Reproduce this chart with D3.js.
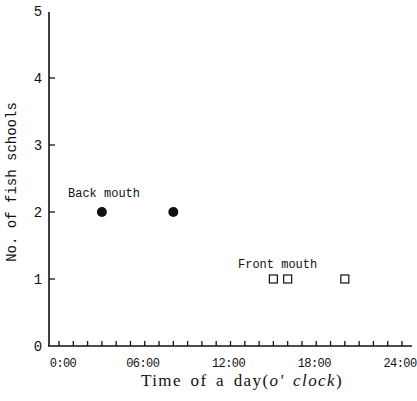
<!DOCTYPE html>
<html>
<head>
<meta charset="utf-8">
<script src="https://cdn.jsdelivr.net/npm/d3@7"></script>
<style>
  html, body { margin: 0; padding: 0; background: #fff; }
  svg { display: block; }
</style>
</head>
<body>
<svg id="chart" width="417" height="401"></svg>
<script>
// Sightings of fish schools by hour of day
const backHours = [3, 8];
const backCounts = [2, 2];
const frontHours = [15, 16, 20];
const frontCounts = [1, 1, 1];
const xTickHours = [0, 6, 12, 18, 24];
const xTickLabels = ["0:00", "06:00", "12:00", "18:00", "24:00"];
const yTicks = [0, 1, 2, 3, 4, 5];

const svg = d3.select("#chart");
const ink = "#111";
const mono = "'Liberation Mono', 'DejaVu Sans Mono', monospace";

const x = d3.scaleLinear().domain([0, 24]).range([59, 402]);
const y = d3.scaleLinear().domain([0, 5]).range([346, 11]);

// axis lines
svg.append("line").attr("x1", 48).attr("x2", 412).attr("y1", y(0)).attr("y2", y(0))
  .attr("stroke", ink).attr("stroke-width", 1.6);
svg.append("line").attr("x1", 49).attr("x2", 49).attr("y1", y(0)).attr("y2", 12)
  .attr("stroke", ink).attr("stroke-width", 1.6);

// hourly ticks pointing into the plot
svg.append("g").selectAll("line").data(d3.range(0, 25)).join("line")
  .attr("x1", d => x(d)).attr("x2", d => x(d))
  .attr("y1", y(0)).attr("y2", y(0) - 5)
  .attr("stroke", ink).attr("stroke-width", 1.3);

// x tick labels
svg.append("g").selectAll("text").data(xTickHours).join("text")
  .attr("x", (d, i) => x(d) + (i === 0 ? 4 : -2))
  .attr("y", 367)
  .attr("text-anchor", "middle")
  .attr("font-family", mono).attr("font-size", 12)
  .attr("letter-spacing", -0.6)
  .attr("fill", ink)
  .text((d, i) => xTickLabels[i]);

// y ticks
svg.append("g").selectAll("line").data(yTicks.filter(d => d > 0 && d < 5)).join("line")
  .attr("x1", 49).attr("x2", 55)
  .attr("y1", d => y(d)).attr("y2", d => y(d))
  .attr("stroke", ink).attr("stroke-width", 1.3);

svg.append("g").selectAll("text").data(yTicks).join("text")
  .attr("x", 38).attr("y", d => y(d) + 5)
  .attr("text-anchor", "middle")
  .attr("font-family", mono).attr("font-size", 14)
  .attr("fill", ink)
  .text(d => d);

// axis titles
const xt = svg.append("text")
  .attr("x", 242).attr("y", 386)
  .attr("text-anchor", "middle")
  .attr("font-family", "'Liberation Serif', 'DejaVu Serif', serif")
  .attr("font-size", 17)
  .attr("letter-spacing", 1.4)
  .attr("word-spacing", 3)
  .attr("fill", ink);
xt.append("tspan").text("Time of a day(");
xt.append("tspan").attr("font-style", "italic").text("o' clock");
xt.append("tspan").text(")");

svg.append("text")
  .attr("transform", "translate(16,182) rotate(-90)")
  .attr("text-anchor", "middle")
  .attr("font-family", mono).attr("font-size", 14)
  .attr("fill", ink)
  .text("No. of fish schools");

// Back mouth: filled circles
svg.append("g").selectAll("circle").data(backHours).join("circle")
  .attr("cx", d => x(d)).attr("cy", (d, i) => y(backCounts[i]))
  .attr("r", 5).attr("fill", ink);

svg.append("text").attr("x", 68).attr("y", 197)
  .attr("font-family", mono).attr("font-size", 12).attr("fill", ink)
  .text("Back mouth");

// Front mouth: open squares
svg.append("g").selectAll("rect").data(frontHours).join("rect")
  .attr("x", d => x(d) - 4).attr("y", (d, i) => y(frontCounts[i]) - 4)
  .attr("width", 8).attr("height", 8)
  .attr("fill", "#fff").attr("stroke", ink).attr("stroke-width", 1.2);

svg.append("text").attr("x", 238).attr("y", 268)
  .attr("font-family", mono).attr("font-size", 12).attr("fill", ink)
  .text("Front mouth");
</script>
</body>
</html>
